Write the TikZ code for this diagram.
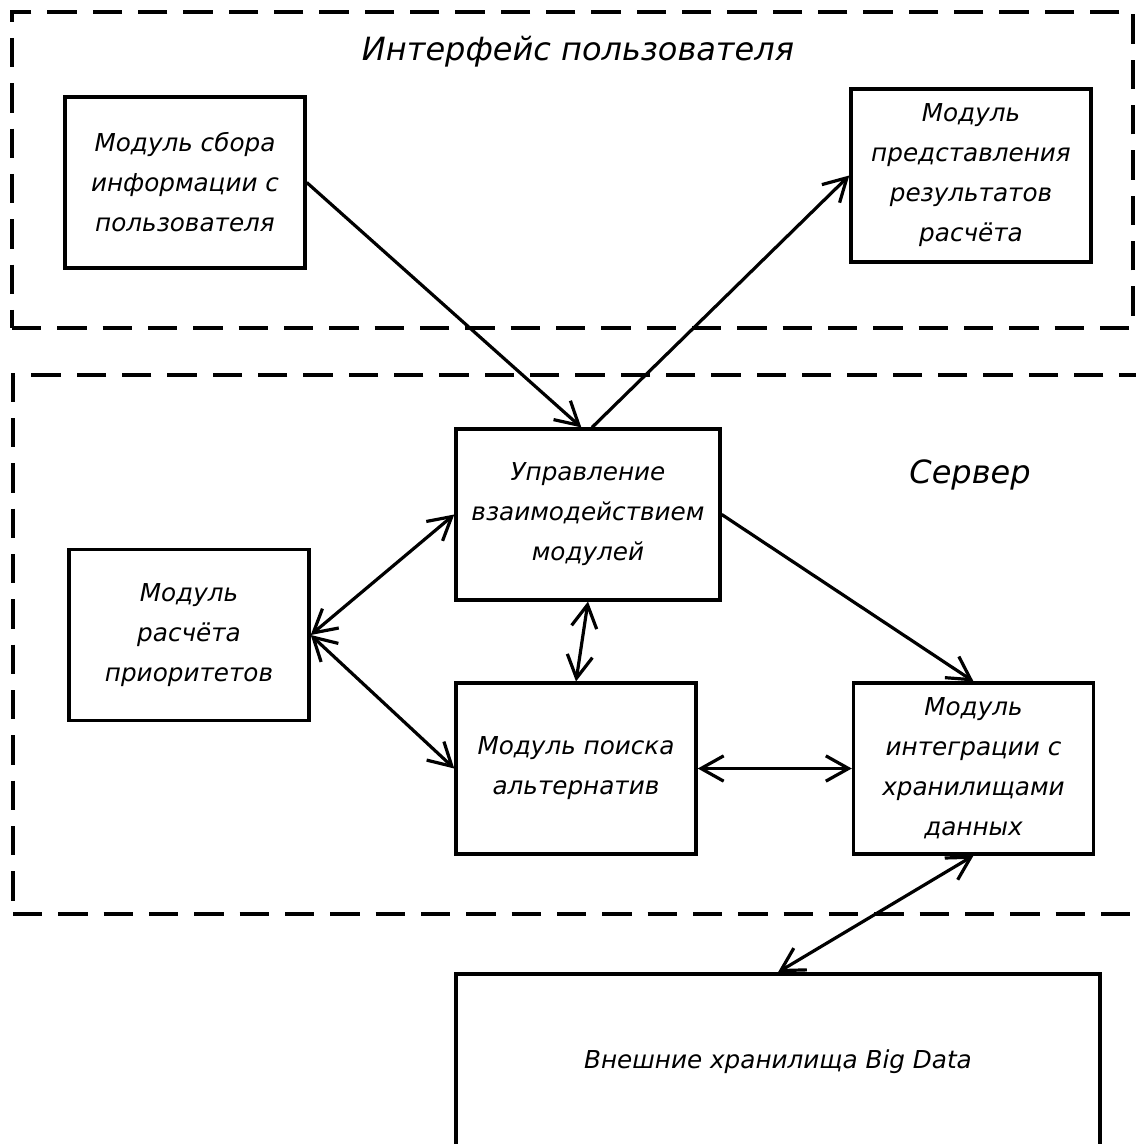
\documentclass[tikz,border=0pt]{standalone}
\usepackage{fontspec}
\setmainfont{DejaVu Sans}
\usepackage{tikz}
\usetikzlibrary{shapes.geometric, arrows.meta, positioning}

\begin{document}
\begin{tikzpicture}[x=0.75pt, y=-0.75pt, font=\itshape\fontsize{18.5}{30}\selectfont]
    % Styles
    \tikzstyle{zone} = [rectangle, draw=black, line width=2.6pt, dash pattern=on 22pt off 12pt, inner sep=0pt]
    \tikzstyle{module} = [rectangle, draw=black, line width=2.6pt, fill=white, align=center, inner sep=0pt, minimum width=180pt, minimum height=128pt]
    \tikzstyle{title} = [font=\itshape\fontsize{24}{28}\selectfont]
    \tikzstyle{arrow} = [line width=2.4pt, ->, >={Straight Barb[length=17pt, width=19pt]}]
    \tikzstyle{biarrow} = [arrow, <->]

    \useasboundingbox (0,0) rectangle (1135,1144);

    % Zones
    \node (ui) [zone, minimum width=840.75pt, minimum height=237pt] at (572.5,170) {};
    \node (server) [zone, minimum width=852.75pt, minimum height=404.25pt] at (581.5,644.5) {};
    \node (uilabel) [title] at (578,52) {Интерфейс пользователя};
    \node (serverlabel) [title] at (970,475) {Сервер};

    % Nodes
    \node (collect) [module] at (185,182.5) {Модуль сбора\\информации с\\пользователя};
    \node (present) [module, minimum height=129.75pt] at (971,175.5) {Модуль\\представления\\результатов\\расчёта};
    \node (control) [module, minimum width=198pt] at (588,514.5) {Управление\\взаимодействием\\модулей};
    \node (priority) [module] at (189,635) {Модуль\\расчёта\\приоритетов};
    \node (search) [module] at (576,768.5) {Модуль поиска\\альтернатив};
    \node (storage) [module] at (973.5,768.5) {Модуль\\интеграции с\\хранилищами\\данных};
    \node (bigdata) [module, minimum width=483pt, minimum height=132pt] at (778,1062) {Внешние хранилища Big Data};

    % Arrows
    \draw [arrow] (collect.east) -- ([xshift=-5pt]control.north);
    \draw [arrow] ([xshift=3pt]control.north) -- (present.west);
    \draw [biarrow] (control.west) -- (priority.east);
    \draw [biarrow] (priority.east) -- (search.west);
    \draw [biarrow] (control.south) -- (search.north);
    \draw [biarrow] (search.east) -- (storage.west);
    \draw [arrow] (control.east) -- (storage.north);
    \draw [biarrow] (storage.south) -- (bigdata.north);
\end{tikzpicture}
\end{document}
